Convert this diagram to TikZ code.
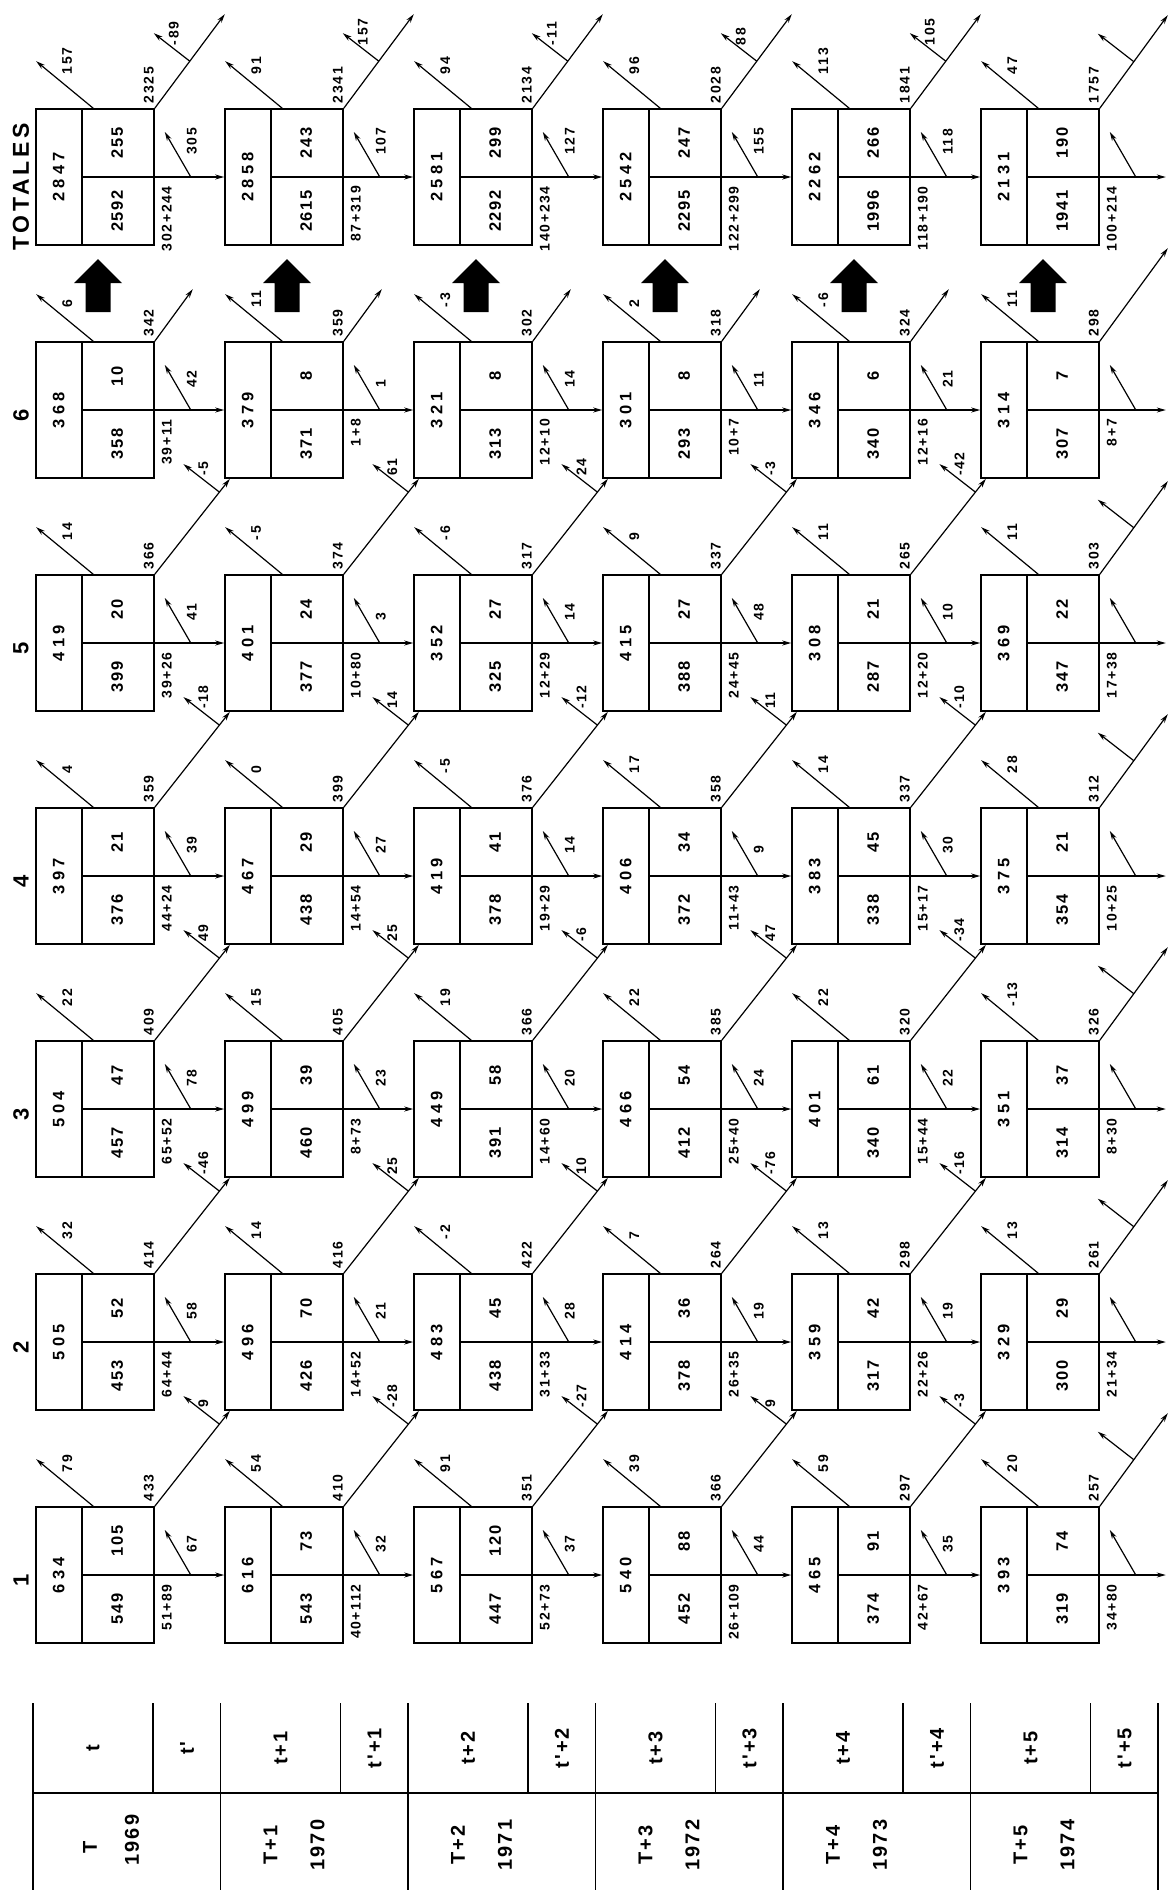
\documentclass[tikz,border=0pt]{standalone}
\usepackage{fontspec}
\setmainfont{Liberation Sans}
\newfontfamily\cellfam{Liberation Sans}[LetterSpace=10]
\newfontfamily\stripfam{Liberation Sans}[LetterSpace=26]
\newfontfamily\labfam{Liberation Sans}[LetterSpace=12]
\newfontfamily\headfam{Liberation Sans}[LetterSpace=10]
\newfontfamily\titlefam{Liberation Sans}[LetterSpace=16]
\usetikzlibrary{arrows.meta,calc}

\tikzset{
  cell/.style={draw, line width=1.6pt, minimum width=118pt, minimum height=136pt, inner sep=0pt},
  rule/.style={line width=1.6pt},
  flow/.style={line width=1.2pt, -{Stealth[length=9pt,width=5pt]}},
  num/.style={rotate=90, inner sep=0pt, font=\cellfam\bfseries\fontsize{16.5}{18}\selectfont},
  sum/.style={rotate=90, inner sep=0pt, font=\stripfam\bfseries\fontsize{16.5}{18}\selectfont},
  lab/.style={rotate=90, inner sep=1pt, font=\labfam\bfseries\fontsize{14}{16}\selectfont},
  head/.style={rotate=90, font=\headfam\bfseries\fontsize{22}{24}\selectfont},
  tabline/.style={line width=1.6pt},
  tabtext/.style={rotate=90, font=\headfam\bfseries\fontsize{20}{22}\selectfont},
}

% box of one class in one year: time, class, total, new, repeaters
\newcommand{\cohortbox}[5]{%
  \node[cell] (t#1c#2) at ({95+189*#1},{1575-233*(#2-1)}) {};
  \draw[rule] ([xshift=47pt]t#1c#2.north west) -- ([xshift=47pt]t#1c#2.south west);
  \draw[rule] ([xshift=47pt]t#1c#2.west) -- (t#1c#2.east);
  \node[sum] (t#1c#2tot) at ([xshift=23.5pt]t#1c#2.west) {#3};
  \node[num] (t#1c#2new) at ([xshift=82pt,yshift=-34pt]t#1c#2.west) {#4};
  \node[num] (t#1c#2rep) at ([xshift=82pt,yshift=34pt]t#1c#2.west) {#5};
}

% flows out of a box: name, next box, out, corner, small, below
\newcommand{\cohortflow}[6]{%
  \draw[flow] (#1.east) -- (#2);
  \coordinate (#1o) at ([xshift=1pt,yshift=47pt]#1.north west);
  \draw[flow] ([xshift=58pt]#1.north west) -- (#1o);
  \node[lab,anchor=west] (#1ol) at ([xshift=32pt,yshift=33pt]#1.north west) {#3};
  \node[lab,anchor=west] (#1cl) at ([xshift=-6pt,yshift=4pt]#1.north east) {#4};
  \coordinate (#1s) at ([xshift=36pt]#1.east);
  \coordinate (#1se) at ([xshift=10pt,yshift=45pt]#1.east);
  \draw[flow] (#1s) -- (#1se);
  \node[lab,anchor=west] (#1sl) at ([xshift=37pt,yshift=21pt]#1.east) {#5};
  \node[lab,anchor=east] (#1bl) at ([xshift=12pt,yshift=-8pt]#1.east) {#6};
}

% promotion to the next class, with its branch: name, target, label
\newcommand{\cohortstep}[3]{%
  \draw[flow] (#1.north east) -- (#2);
  \coordinate (#1m) at ($(#1.north east)!0.5!(#2)$);
  \coordinate (#1b) at ([xshift=-36pt,yshift=28pt]#1m);
  \draw[flow] (#1m) -- (#1b);
  \node[lab,anchor=west] (#1ml) at ([xshift=-16pt,yshift=15pt]#1m) {#3};
}

\begin{document}
\begin{tikzpicture}[x=1pt, y=-1pt]
\useasboundingbox (0,0) rectangle (1175,1893);

% boxes
\cohortbox{0}{1}{634}{549}{105}
\cohortbox{0}{2}{505}{453}{52}
\cohortbox{0}{3}{504}{457}{47}
\cohortbox{0}{4}{397}{376}{21}
\cohortbox{0}{5}{419}{399}{20}
\cohortbox{0}{6}{368}{358}{10}
\cohortbox{0}{7}{2847}{2592}{255}

\cohortbox{1}{1}{616}{543}{73}
\cohortbox{1}{2}{496}{426}{70}
\cohortbox{1}{3}{499}{460}{39}
\cohortbox{1}{4}{467}{438}{29}
\cohortbox{1}{5}{401}{377}{24}
\cohortbox{1}{6}{379}{371}{8}
\cohortbox{1}{7}{2858}{2615}{243}

\cohortbox{2}{1}{567}{447}{120}
\cohortbox{2}{2}{483}{438}{45}
\cohortbox{2}{3}{449}{391}{58}
\cohortbox{2}{4}{419}{378}{41}
\cohortbox{2}{5}{352}{325}{27}
\cohortbox{2}{6}{321}{313}{8}
\cohortbox{2}{7}{2581}{2292}{299}

\cohortbox{3}{1}{540}{452}{88}
\cohortbox{3}{2}{414}{378}{36}
\cohortbox{3}{3}{466}{412}{54}
\cohortbox{3}{4}{406}{372}{34}
\cohortbox{3}{5}{415}{388}{27}
\cohortbox{3}{6}{301}{293}{8}
\cohortbox{3}{7}{2542}{2295}{247}

\cohortbox{4}{1}{465}{374}{91}
\cohortbox{4}{2}{359}{317}{42}
\cohortbox{4}{3}{401}{340}{61}
\cohortbox{4}{4}{383}{338}{45}
\cohortbox{4}{5}{308}{287}{21}
\cohortbox{4}{6}{346}{340}{6}
\cohortbox{4}{7}{2262}{1996}{266}

\cohortbox{5}{1}{393}{319}{74}
\cohortbox{5}{2}{329}{300}{29}
\cohortbox{5}{3}{351}{314}{37}
\cohortbox{5}{4}{375}{354}{21}
\cohortbox{5}{5}{369}{347}{22}
\cohortbox{5}{6}{314}{307}{7}
\cohortbox{5}{7}{2131}{1941}{190}

% free ends
\foreach \c in {1,...,7} {
  \coordinate (t5c\c h) at ([xshift=66pt]t5c\c.east);
  \coordinate (t5c\c d) at ([xshift=68pt,yshift=93pt]t5c\c.north east);
}
\foreach \k in {0,...,4} {
  \coordinate (t\k c7d) at ([xshift=70pt,yshift=94pt]t\k c7.north east);
  \coordinate (t\k c6d) at ([xshift=38pt,yshift=52pt]t\k c6.north east);
}

% flows
\cohortflow{t0c1}{t1c1}{79}{433}{67}{51+89}
\cohortflow{t0c2}{t1c2}{32}{414}{58}{64+44}
\cohortflow{t0c3}{t1c3}{22}{409}{78}{65+52}
\cohortflow{t0c4}{t1c4}{4}{359}{39}{44+24}
\cohortflow{t0c5}{t1c5}{14}{366}{41}{39+26}
\cohortflow{t0c6}{t1c6}{6}{342}{42}{39+11}
\cohortflow{t0c7}{t1c7}{157}{2325}{305}{302+244}

\cohortflow{t1c1}{t2c1}{54}{410}{32}{40+112}
\cohortflow{t1c2}{t2c2}{14}{416}{21}{14+52}
\cohortflow{t1c3}{t2c3}{15}{405}{23}{8+73}
\cohortflow{t1c4}{t2c4}{0}{399}{27}{14+54}
\cohortflow{t1c5}{t2c5}{-5}{374}{3}{10+80}
\cohortflow{t1c6}{t2c6}{11}{359}{1}{1+8}
\cohortflow{t1c7}{t2c7}{91}{2341}{107}{87+319}

\cohortflow{t2c1}{t3c1}{91}{351}{37}{52+73}
\cohortflow{t2c2}{t3c2}{-2}{422}{28}{31+33}
\cohortflow{t2c3}{t3c3}{19}{366}{20}{14+60}
\cohortflow{t2c4}{t3c4}{-5}{376}{14}{19+29}
\cohortflow{t2c5}{t3c5}{-6}{317}{14}{12+29}
\cohortflow{t2c6}{t3c6}{-3}{302}{14}{12+10}
\cohortflow{t2c7}{t3c7}{94}{2134}{127}{140+234}

\cohortflow{t3c1}{t4c1}{39}{366}{44}{26+109}
\cohortflow{t3c2}{t4c2}{7}{264}{19}{26+35}
\cohortflow{t3c3}{t4c3}{22}{385}{24}{25+40}
\cohortflow{t3c4}{t4c4}{17}{358}{9}{11+43}
\cohortflow{t3c5}{t4c5}{9}{337}{48}{24+45}
\cohortflow{t3c6}{t4c6}{2}{318}{11}{10+7}
\cohortflow{t3c7}{t4c7}{96}{2028}{155}{122+299}

\cohortflow{t4c1}{t5c1}{59}{297}{35}{42+67}
\cohortflow{t4c2}{t5c2}{13}{298}{19}{22+26}
\cohortflow{t4c3}{t5c3}{22}{320}{22}{15+44}
\cohortflow{t4c4}{t5c4}{14}{337}{30}{15+17}
\cohortflow{t4c5}{t5c5}{11}{265}{10}{12+20}
\cohortflow{t4c6}{t5c6}{-6}{324}{21}{12+16}
\cohortflow{t4c7}{t5c7}{113}{1841}{118}{118+190}

\cohortflow{t5c1}{t5c1h}{20}{257}{}{34+80}
\cohortflow{t5c2}{t5c2h}{13}{261}{}{21+34}
\cohortflow{t5c3}{t5c3h}{-13}{326}{}{8+30}
\cohortflow{t5c4}{t5c4h}{28}{312}{}{10+25}
\cohortflow{t5c5}{t5c5h}{11}{303}{}{17+38}
\cohortflow{t5c6}{t5c6h}{11}{298}{}{8+7}
\cohortflow{t5c7}{t5c7h}{47}{1757}{}{100+214}

% promotions
\cohortstep{t0c1}{t1c2}{9}
\cohortstep{t0c2}{t1c3}{-46}
\cohortstep{t0c3}{t1c4}{49}
\cohortstep{t0c4}{t1c5}{-18}
\cohortstep{t0c5}{t1c6}{-5}
\cohortstep{t0c7}{t0c7d}{-89}
\cohortstep{t1c1}{t2c2}{-28}
\cohortstep{t1c2}{t2c3}{25}
\cohortstep{t1c3}{t2c4}{25}
\cohortstep{t1c4}{t2c5}{14}
\cohortstep{t1c5}{t2c6}{61}
\cohortstep{t1c7}{t1c7d}{157}
\cohortstep{t2c1}{t3c2}{-27}
\cohortstep{t2c2}{t3c3}{10}
\cohortstep{t2c3}{t3c4}{-6}
\cohortstep{t2c4}{t3c5}{-12}
\cohortstep{t2c5}{t3c6}{24}
\cohortstep{t2c7}{t2c7d}{-11}
\cohortstep{t3c1}{t4c2}{9}
\cohortstep{t3c2}{t4c3}{-76}
\cohortstep{t3c3}{t4c4}{47}
\cohortstep{t3c4}{t4c5}{11}
\cohortstep{t3c5}{t4c6}{-3}
\cohortstep{t3c7}{t3c7d}{88}
\cohortstep{t4c1}{t5c2}{-3}
\cohortstep{t4c2}{t5c3}{-16}
\cohortstep{t4c3}{t5c4}{-34}
\cohortstep{t4c4}{t5c5}{-10}
\cohortstep{t4c5}{t5c6}{-42}
\cohortstep{t4c7}{t4c7d}{105}
\foreach \c in {1,...,5,7} {
  \cohortstep{t5c\c}{t5c\c d}{}
}
\foreach \k in {0,...,4} {
  \draw[flow] (t\k c6.north east) -- (t\k c6d);
}
\draw[flow] (t5c6.north east) -- (t5c6d);

% block arrows towards the totals
\foreach \k in {0,...,5} {
  \fill ([xshift=3pt,yshift=82pt]t\k c6.north) -- ++(24pt,-24pt) -- ++(-11.5pt,0pt)
    -- ++(0pt,-29pt) -- ++(-25pt,0pt) -- ++(0pt,29pt) -- ++(-11.5pt,0pt) -- cycle;
}

% class headings
\foreach \c in {1,...,6} {
  \node[head] (h\c) at (21,{1580-233*(\c-1)}) {\c};
}
\node[head, font=\titlefam\bfseries\fontsize{23}{25}\selectfont] (htot) at (21,187) {TOTALES};

% year table
\foreach \k in {0,...,5} {
  \draw[tabline] ({33+187.5*\k},1703) -- ({33+187.5*\k},1890);
  \draw[tabline] ({153+187.5*\k},1703) -- ({153+187.5*\k},1793);
}
\draw[tabline] (1158,1703) -- (1158,1890);
\draw[tabline] (33,1793) -- (1158,1793);

\node[tabtext] (s0) at (93,1748) {t};
\node[tabtext] (p0) at (187,1748) {t'};
\node[tabtext] (y0) at (90,1847) {T};
\node[tabtext] (n0) at (132,1840) {1969};
\foreach \k/\yr in {1/1970,2/1971,3/1972,4/1973,5/1974} {
  \node[tabtext] (s\k) at ({93+187.5*\k},1748) {t+\k};
  \node[tabtext] (p\k) at ({187+187.5*\k},1748) {t'+\k};
  \node[tabtext] (y\k) at ({83+187.5*\k},1845) {T+\k};
  \node[tabtext] (n\k) at ({130+187.5*\k},1845) {\yr};
}
\end{tikzpicture}
\end{document}
